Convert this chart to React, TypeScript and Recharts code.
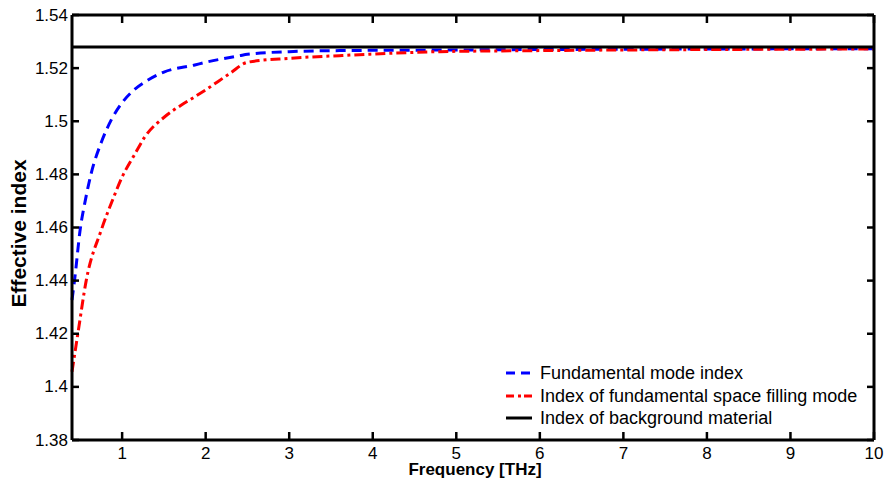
import React from 'react';
import { LineChart, Line, XAxis, YAxis, Legend } from 'recharts';

// Frequency (THz) / effective index
const blueFreq = [0.4, 0.43, 0.5, 0.56, 0.63, 0.75, 0.87, 1.0, 1.15, 1.31, 1.5, 1.87, 2.0, 2.41, 2.5, 3.0, 3.6, 4.8, 6, 8, 10];
const blueIndex = [1.4327, 1.44, 1.4597, 1.4703, 1.4804, 1.492, 1.5005, 1.507, 1.512, 1.5155, 1.5185, 1.5212, 1.5222, 1.5247, 1.5252, 1.5262, 1.5266, 1.5268, 1.527, 1.5272, 1.5273];

const redFreq = [0.4, 0.47, 0.57, 0.75, 0.9, 1.0, 1.15, 1.27, 1.51, 1.71, 1.87, 2.0, 2.29, 2.5, 3.0, 3.6, 4.8, 6, 8, 10];
const redIndex = [1.4057, 1.42, 1.44, 1.459, 1.4715, 1.479, 1.4875, 1.494, 1.5017, 1.5061, 1.5092, 1.5118, 1.518, 1.5222, 1.5237, 1.5247, 1.5262, 1.5266, 1.527, 1.5272];

const bgFreq = [0.4, 10];
const bgIndex = [1.528, 1.528];

const xTicks = [1, 2, 3, 4, 5, 6, 7, 8, 9, 10];
const yTicks = [1.38, 1.4, 1.42, 1.44, 1.46, 1.48, 1.5, 1.52, 1.54];

const seriesNames = [
  'Fundamental mode index',
  'Index of fundamental space filling mode',
  'Index of background material',
];

const toRows = (xs: number[], ys: number[]) => xs.map((f, i) => ({ f, n: ys[i] }));
const blueData = toRows(blueFreq, blueIndex);
const redData = toRows(redFreq, redIndex);
const bgData = toRows(bgFreq, bgIndex);

const FONT = '"Liberation Sans", Arial, Helvetica, sans-serif';
const INK = '#000000';

const legendDash: Record<string, string | undefined> = {
  [seriesNames[0]]: '9 6',
  [seriesNames[1]]: '8 4 3 3',
  [seriesNames[2]]: undefined,
};

const leftTick = (p: any) => (
  <g>
    <line x1={p.x} x2={p.x + 7} y1={p.y} y2={p.y} stroke={INK} strokeWidth={2.5} />
    <text x={p.x - 4} y={p.y} textAnchor="end" dominantBaseline="central" fontSize={17} fontFamily={FONT} fill={INK}>
      {String(p.payload.value)}
    </text>
  </g>
);

const rightTick = (p: any) => (
  <g>
    <line x1={p.x} x2={p.x - 7} y1={p.y} y2={p.y} stroke={INK} strokeWidth={2.5} />
  </g>
);

const bottomTick = (p: any) => (
  <g>
    <line x1={p.x} x2={p.x} y1={p.y} y2={p.y - 8} stroke={INK} strokeWidth={2.5} />
    <text x={p.x} y={p.y + 13} textAnchor="middle" dominantBaseline="central" fontSize={17} fontFamily={FONT} fill={INK}>
      {String(p.payload.value)}
    </text>
  </g>
);

const topTick = (p: any) => (
  <g>
    <line x1={p.x} x2={p.x} y1={p.y} y2={p.y + 8} stroke={INK} strokeWidth={2.5} />
  </g>
);

const XTitle = ({ viewBox }: any) => (
  <text x={viewBox.x + viewBox.width / 2 + 2} y={viewBox.y + 35} textAnchor="middle"
    fontSize={17} fontWeight="bold" fontFamily={FONT} fill={INK}>
    Frequency [THz]
  </text>
);

const YTitle = ({ viewBox }: any) => {
  const cx = viewBox.x + 18.5;
  const cy = viewBox.y + viewBox.height / 2 + 6;
  return (
    <text x={cx} y={cy} transform={`rotate(-90 ${cx} ${cy})`} textAnchor="middle" dominantBaseline="central"
      fontSize={21} fontWeight="bold" fontFamily={FONT} fill={INK}>
      Effective index
    </text>
  );
};

const renderLegend = (props: any) => {
  // keep plotting order, not alphabetical
  const items = [...(props.payload || [])].sort(
    (a: any, b: any) => seriesNames.indexOf(a.value) - seriesNames.indexOf(b.value)
  );
  return (
    <div>
      {items.map((entry: any) => (
        <div key={entry.value} style={{ display: 'flex', alignItems: 'center', height: 22.5 }}>
          <svg width={26} height={6} style={{ display: 'block' }}>
            <line x1={0} x2={26} y1={3} y2={3} stroke={entry.color} strokeWidth={3} strokeDasharray={legendDash[entry.value]} />
          </svg>
          <span style={{ marginLeft: 8, fontSize: 18, fontFamily: FONT, color: INK, whiteSpace: 'nowrap', lineHeight: '22.5px' }}>
            {entry.value}
          </span>
        </div>
      ))}
    </div>
  );
};

export default function App() {
  return (
    <div style={{ position: 'absolute', left: 0, top: 0, width: 887, height: 487 }}>
      <LineChart width={887} height={487} margin={{ top: 14, right: 12, bottom: 0, left: 0 }}>
        <XAxis dataKey="f" type="number" domain={[0.4, 10]} ticks={xTicks} interval={0} height={47}
          tickSize={0} tickMargin={0} tick={bottomTick}
          axisLine={{ stroke: INK, strokeWidth: 3 }} label={<XTitle />} />
        <XAxis xAxisId="top" orientation="top" dataKey="f" type="number" domain={[0.4, 10]} ticks={xTicks}
          interval={0} height={1} tickSize={0} tickMargin={0} tick={topTick}
          axisLine={{ stroke: INK, strokeWidth: 3 }} />
        <YAxis type="number" domain={[1.38, 1.54]} ticks={yTicks} interval={0} width={72}
          tickSize={0} tickMargin={0} tick={leftTick}
          axisLine={{ stroke: INK, strokeWidth: 3 }} label={<YTitle />} />
        <YAxis yAxisId="right" orientation="right" type="number" domain={[1.38, 1.54]} ticks={yTicks}
          interval={0} width={1} tickSize={0} tickMargin={0} tick={rightTick}
          axisLine={{ stroke: INK, strokeWidth: 3 }} />
        <Line data={blueData} dataKey="n" name={seriesNames[0]} type="monotone" stroke="#0000ff"
          strokeWidth={3} strokeDasharray="10 6" dot={false} isAnimationActive={false} />
        <Line data={redData} dataKey="n" name={seriesNames[1]} type="monotone" stroke="#ff0000"
          strokeWidth={3} strokeDasharray="10 4 3 4" dot={false} isAnimationActive={false} />
        {/* background line sits on the top/right axes (same domains) so those axes get their ticks */}
        <Line xAxisId="top" yAxisId="right" data={bgData} dataKey="n" name={seriesNames[2]} type="linear"
          stroke={INK} strokeWidth={3} dot={false} isAnimationActive={false} />
        <Legend layout="vertical" verticalAlign="middle" align="center" content={renderLegend}
          wrapperStyle={{ left: 506, top: 362, width: 'auto', right: 'auto', bottom: 'auto' }} />
      </LineChart>
    </div>
  );
}
